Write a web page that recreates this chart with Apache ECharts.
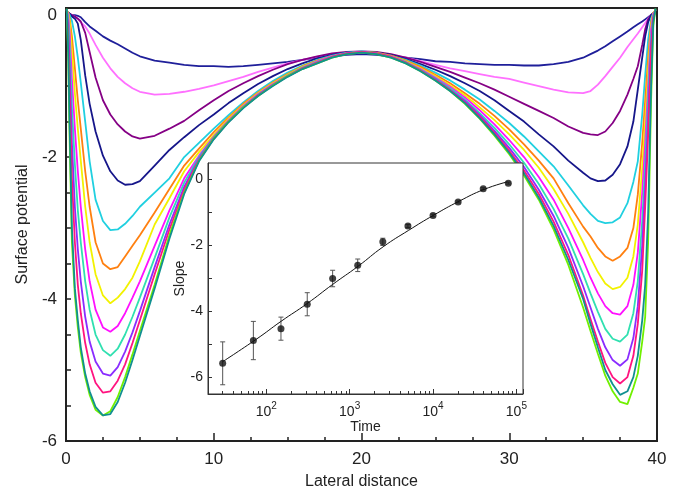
<!DOCTYPE html>
<html><head><meta charset="utf-8">
<script src="https://cdn.jsdelivr.net/npm/echarts@6/dist/echarts.min.js"></script>
<style>html,body{margin:0;padding:0;background:#fff}#c{width:682px;height:498px}</style>
</head><body><div id="c"></div>
<script>
// ---- main chart data ----
const X = [0.05,0.15,0.25,0.4,0.6,0.8,1,1.3,1.6,2,2.5,3,3.5,4,4.5,5,
  6,7,8,9,10,11,12,13,14,15,16,17,18,19,20,21,22,23,24,25,26,27,28,29,30,31,32,33,34,
  35,35.5,36,36.5,37,37.5,38,38.4,38.7,39,39.2,39.4,39.6,39.75,39.9];

const curveColors = ['#1f1f9a','#ff70ff','#850085','#16168a','#20d0e0','#ff8010','#f2f200',
  '#ff10ff','#30e0b0','#8a2cff','#ff1480','#70f000','#109090'];

const Y1 = [0.03,0.02,0.01,0.0,0.0,-0.01,-0.03,-0.1,-0.16,-0.22,-0.3,-0.36,-0.41,-0.47,-0.53,-0.58,
  -0.64,-0.67,-0.7,-0.72,-0.72,-0.73,-0.72,-0.7,-0.68,-0.66,-0.63,-0.6,-0.58,-0.56,-0.55,-0.56,-0.58,-0.6,-0.62,-0.65,-0.66,-0.68,-0.69,-0.7,-0.7,-0.71,-0.71,-0.69,-0.66,
  -0.6,-0.55,-0.5,-0.44,-0.37,-0.3,-0.23,-0.17,-0.13,-0.09,-0.06,-0.03,0.0,0.01,0.03];
const Y2 = [0.04,0.03,0.02,0.0,-0.02,-0.05,-0.1,-0.16,-0.26,-0.42,-0.6,-0.75,-0.87,-0.96,-1.03,-1.08,
  -1.12,-1.11,-1.08,-1.04,-0.99,-0.93,-0.87,-0.8,-0.74,-0.68,-0.63,-0.59,-0.55,-0.53,-0.52,-0.53,-0.56,-0.6,-0.65,-0.7,-0.75,-0.79,-0.83,-0.87,-0.9,-0.95,-1.0,-1.05,-1.09,
  -1.1,-1.07,-0.98,-0.86,-0.73,-0.6,-0.45,-0.34,-0.26,-0.17,-0.11,-0.05,0.0,0.02,0.04];
const Y3 = [0.05,0.04,0.02,0.0,-0.02,-0.05,-0.09,-0.25,-0.52,-0.88,-1.2,-1.4,-1.54,-1.64,-1.71,-1.74,
  -1.7,-1.6,-1.49,-1.34,-1.2,-1.07,-0.96,-0.86,-0.77,-0.69,-0.63,-0.58,-0.54,-0.52,-0.51,-0.52,-0.55,-0.6,-0.66,-0.73,-0.8,-0.88,-0.96,-1.05,-1.15,-1.25,-1.35,-1.45,-1.57,
  -1.66,-1.68,-1.69,-1.64,-1.52,-1.35,-1.12,-0.9,-0.72,-0.42,-0.2,-0.06,0.0,0.03,0.05];
const Y4 = [0.05,0.04,0.02,-0.02,-0.05,-0.12,-0.35,-0.85,-1.25,-1.64,-1.98,-2.2,-2.33,-2.39,-2.38,-2.34,
  -2.12,-1.9,-1.72,-1.55,-1.4,-1.24,-1.1,-0.97,-0.86,-0.76,-0.68,-0.61,-0.56,-0.53,-0.52,-0.53,-0.56,-0.62,-0.69,-0.77,-0.86,-0.96,-1.07,-1.2,-1.35,-1.5,-1.68,-1.85,-2.05,
  -2.22,-2.3,-2.34,-2.33,-2.25,-2.1,-1.85,-1.5,-1.05,-0.6,-0.3,-0.1,0.0,0.03,0.05];
const Y5 = [0.06,0.04,0.0,-0.08,-0.3,-0.6,-0.95,-1.5,-2.06,-2.6,-2.9,-3.03,-3.02,-2.94,-2.83,-2.7,
  -2.5,-2.3,-2.0,-1.8,-1.6,-1.41,-1.23,-1.07,-0.93,-0.81,-0.71,-0.63,-0.57,-0.53,-0.51,-0.53,-0.57,-0.63,-0.71,-0.81,-0.92,-1.05,-1.19,-1.35,-1.52,-1.71,-1.92,-2.13,-2.4,
  -2.68,-2.8,-2.9,-2.93,-2.92,-2.85,-2.65,-2.35,-2.06,-1.4,-0.85,-0.35,-0.05,0.03,0.06];
const Y6 = [0.06,0.03,-0.05,-0.3,-0.75,-1.2,-1.6,-2.2,-2.7,-3.2,-3.5,-3.58,-3.55,-3.4,-3.25,-3.1,
  -2.78,-2.45,-2.12,-1.88,-1.65,-1.44,-1.25,-1.09,-0.95,-0.83,-0.72,-0.64,-0.58,-0.54,-0.52,-0.53,-0.57,-0.64,-0.73,-0.84,-0.96,-1.1,-1.25,-1.42,-1.61,-1.82,-2.05,-2.3,-2.65,
  -2.98,-3.12,-3.28,-3.4,-3.46,-3.4,-3.28,-3.0,-2.53,-1.8,-1.2,-0.6,-0.1,0.03,0.06];
const Y7 = [0.07,0.02,-0.1,-0.5,-1.1,-1.6,-2.05,-2.7,-3.2,-3.65,-3.95,-4.06,-3.98,-3.86,-3.7,-3.47,
  -2.95,-2.58,-2.2,-1.93,-1.69,-1.46,-1.27,-1.1,-0.96,-0.84,-0.73,-0.65,-0.58,-0.54,-0.52,-0.54,-0.58,-0.65,-0.75,-0.86,-0.99,-1.13,-1.3,-1.48,-1.68,-1.9,-2.15,-2.45,-2.8,
  -3.2,-3.42,-3.62,-3.78,-3.86,-3.83,-3.7,-3.4,-2.95,-2.15,-1.5,-0.8,-0.15,0.03,0.07];
const Y8 = [0.07,0.0,-0.25,-0.9,-1.6,-2.2,-2.7,-3.3,-3.75,-4.15,-4.4,-4.46,-4.38,-4.2,-3.98,-3.75,
  -3.25,-2.75,-2.3,-1.98,-1.71,-1.48,-1.28,-1.11,-0.97,-0.85,-0.74,-0.65,-0.58,-0.54,-0.52,-0.54,-0.58,-0.66,-0.76,-0.88,-1.01,-1.16,-1.34,-1.54,-1.76,-2.0,-2.28,-2.6,-3.0,
  -3.45,-3.7,-3.92,-4.1,-4.2,-4.22,-4.1,-3.8,-3.35,-2.5,-1.8,-1.0,-0.2,0.02,0.07];
const Y9 = [0.07,-0.05,-0.45,-1.3,-2.1,-2.75,-3.2,-3.75,-4.15,-4.5,-4.72,-4.8,-4.7,-4.5,-4.25,-3.98,
  -3.42,-2.85,-2.36,-2.0,-1.72,-1.49,-1.29,-1.12,-0.98,-0.85,-0.74,-0.66,-0.59,-0.54,-0.52,-0.54,-0.59,-0.66,-0.77,-0.89,-1.03,-1.19,-1.38,-1.59,-1.82,-2.08,-2.38,-2.73,-3.15,
  -3.65,-3.92,-4.18,-4.42,-4.56,-4.6,-4.5,-4.2,-3.75,-2.9,-2.1,-1.2,-0.3,0.0,0.07];
const Y10 = [0.08,-0.15,-0.75,-1.8,-2.7,-3.3,-3.75,-4.25,-4.6,-4.88,-5.05,-5.08,-4.96,-4.74,-4.47,-4.17,
  -3.55,-2.95,-2.42,-2.02,-1.73,-1.5,-1.3,-1.13,-0.98,-0.86,-0.75,-0.67,-0.59,-0.54,-0.52,-0.54,-0.59,-0.67,-0.78,-0.9,-1.05,-1.21,-1.41,-1.63,-1.87,-2.14,-2.46,-2.83,-3.28,
  -3.82,-4.12,-4.42,-4.68,-4.86,-4.94,-4.85,-4.55,-4.1,-3.25,-2.4,-1.45,-0.4,-0.02,0.07];
const Y11 = [0.08,-0.3,-1.1,-2.3,-3.2,-3.8,-4.2,-4.62,-4.92,-5.18,-5.32,-5.3,-5.15,-4.92,-4.62,-4.3,
  -3.65,-3.02,-2.46,-2.04,-1.74,-1.5,-1.3,-1.13,-0.99,-0.86,-0.75,-0.67,-0.59,-0.54,-0.52,-0.54,-0.59,-0.67,-0.78,-0.91,-1.06,-1.23,-1.43,-1.66,-1.91,-2.19,-2.52,-2.91,-3.38,
  -3.95,-4.28,-4.6,-4.9,-5.1,-5.19,-5.1,-4.8,-4.35,-3.6,-2.7,-1.7,-0.5,-0.05,0.08];
const Y12 = [0.09,-0.6,-1.8,-3.2,-3.95,-4.4,-4.75,-5.1,-5.35,-5.56,-5.64,-5.58,-5.38,-5.1,-4.78,-4.45,
  -3.8,-3.1,-2.5,-2.05,-1.74,-1.5,-1.3,-1.14,-0.99,-0.86,-0.76,-0.68,-0.6,-0.55,-0.53,-0.55,-0.6,-0.68,-0.79,-0.92,-1.07,-1.25,-1.46,-1.7,-1.96,-2.26,-2.6,-3.02,-3.52,
  -4.12,-4.45,-4.77,-5.08,-5.3,-5.45,-5.48,-5.25,-5.05,-4.6,-4.25,-3.2,-1.2,-0.15,0.09];
const Y13 = [0.09,-0.5,-1.6,-3.0,-3.85,-4.3,-4.68,-5.05,-5.3,-5.52,-5.64,-5.62,-5.45,-5.18,-4.86,-4.52,
  -3.85,-3.15,-2.52,-2.06,-1.75,-1.51,-1.31,-1.14,-1.0,-0.87,-0.76,-0.68,-0.6,-0.55,-0.53,-0.55,-0.6,-0.68,-0.79,-0.92,-1.07,-1.24,-1.45,-1.68,-1.94,-2.23,-2.57,-2.97,-3.45,
  -4.0,-4.35,-4.68,-5.0,-5.2,-5.35,-5.3,-5.1,-4.8,-4.3,-3.8,-2.8,-1.0,-0.1,0.09];
const curves = [Y1,Y2,Y3,Y4,Y5,Y6,Y7,Y8,Y9,Y10,Y11,Y12,Y13];

// ---- inset data ----
const time = [30, 70, 150, 310, 625, 1250, 2500, 5000, 10000, 20000, 40000, 80000];
const slope = [-5.57, -4.88, -4.52, -3.78, -3.00, -2.60, -1.89, -1.41, -1.09, -0.68, -0.28, -0.11];
const slopeErr = [0.65, 0.58, 0.35, 0.35, 0.25, 0.19, 0.11, 0.05, 0.04, 0.03, 0.03, 0.03];
const fitTime = [30, 77, 150, 309, 625, 1260, 2520, 5100, 10200, 20500, 41000, 78000];
const fitSlope = [-5.52, -4.83, -4.30, -3.76, -3.18, -2.63, -2.04, -1.54, -1.08, -0.66, -0.30, -0.07];
const insetYTicks = [-6, -5, -4, -3, -2, -1, 0];
const insetYLabels = [-6, -4, -2, 0];

const F = "'Liberation Sans', Arial, Helvetica, sans-serif";
const chart = echarts.init(document.getElementById('c'), null, {renderer: 'canvas'});

const lineSeries = curves.map((ys, k) => ({
  type: 'line', xAxisIndex: 0, yAxisIndex: 0, symbol: 'none', z: 2,
  data: X.map((x, i) => [x, ys[i]]),
  lineStyle: {color: curveColors[k], width: 1.8},
  itemStyle: {color: curveColors[k]}
}));

const option = {
  animation: false,
  backgroundColor: '#fff',
  grid: [
    {left: 66, right: 25, top: 8, bottom: 57, show: true, borderColor: '#222', borderWidth: 2, backgroundColor: 'transparent'},
    {left: 208, top: 163, width: 315, height: 231, show: true, borderColor: '#333', borderWidth: 1, backgroundColor: '#fff', z: 10}
  ],
  xAxis: [
    {gridIndex: 0, type: 'value', min: 0, max: 40, interval: 10,
     axisLine: {show: true, onZero: false, lineStyle: {color: '#222', width: 2}},
     axisTick: {show: true, inside: true, length: 8, lineStyle: {color: '#222', width: 1.5}},
     minorTick: {show: true, splitNumber: 4, length: 4, lineStyle: {color: '#222', width: 1.5}},
     splitLine: {show: false}, minorSplitLine: {show: false},
     axisLabel: {fontSize: 17, color: '#222', margin: 10, fontFamily: F},
     name: 'Lateral distance', nameLocation: 'middle', nameGap: 33,
     nameTextStyle: {fontSize: 16, color: '#222', fontFamily: F}},
    {gridIndex: 1, type: 'log', logBase: 10, min: 20, max: 120000, z: 11,
     axisLine: {show: true, onZero: false, lineStyle: {color: '#333', width: 1}},
     axisTick: {show: true, inside: true, length: 5, lineStyle: {color: '#333', width: 1}},
     minorTick: {show: true, splitNumber: 9, length: 3, lineStyle: {color: '#333', width: 1}},
     splitLine: {show: false}, minorSplitLine: {show: false},
     axisLabel: {margin: 7, color: '#222',
       formatter: function (v) {
         const l = Math.log10(v), e = Math.round(l);
         if (Math.abs(l - e) > 1e-6) return '';
         return '{b|10}{s|' + e + '}';
       },
       rich: {
         b: {fontSize: 14, color: '#222', fontFamily: F, lineHeight: 18, verticalAlign: 'bottom'},
         s: {fontSize: 10, color: '#222', fontFamily: F, lineHeight: 5, verticalAlign: 'top'}
       }},
     name: 'Time', nameLocation: 'middle', nameGap: 25,
     nameTextStyle: {fontSize: 14, color: '#222', fontFamily: F}}
  ],
  yAxis: [
    {gridIndex: 0, type: 'value', min: -6, max: 0.1, interval: 0.5,
     axisLine: {show: true, onZero: false, lineStyle: {color: '#222', width: 2}},
     axisTick: {show: true, inside: true, length: 5, lineStyle: {color: '#222', width: 1.5}},
     splitLine: {show: false},
     axisLabel: {fontSize: 17, color: '#222', margin: 9, fontFamily: F,
       formatter: v => (Math.abs(v % 2) < 1e-9 ? String(v) : '')},
     name: 'Surface potential', nameLocation: 'middle', nameGap: 35, nameRotate: 90,
     nameTextStyle: {fontSize: 16, color: '#222', fontFamily: F}},
    {gridIndex: 1, type: 'value', min: -6.5, max: 0.5, z: 11,
     axisLine: {show: true, onZero: false, lineStyle: {color: '#333', width: 1}},
     axisTick: {show: true, inside: true, length: 4, customValues: insetYTicks, lineStyle: {color: '#333', width: 1}},
     splitLine: {show: false},
     axisLabel: {fontSize: 14, color: '#222', margin: 5, fontFamily: F, customValues: insetYLabels},
     name: 'Slope', nameLocation: 'middle', nameGap: 18, nameRotate: 90,
     nameTextStyle: {fontSize: 14, color: '#222', fontFamily: F}}
  ],
  series: lineSeries.concat([
    {type: 'custom', xAxisIndex: 1, yAxisIndex: 1, z: 12,
     data: time.map((t, i) => [t, slope[i], slopeErr[i]]),
     encode: {x: 0, y: 1},
     renderItem: function (params, api) {
       const x = api.value(0), y = api.value(1), e = api.value(2);
       const top = api.coord([x, y + e]), bot = api.coord([x, y - e]);
       const w = 2.5, st = {stroke: '#555', lineWidth: 1};
       return {type: 'group', children: [
         {type: 'line', shape: {x1: top[0], y1: top[1], x2: bot[0], y2: bot[1]}, style: st},
         {type: 'line', shape: {x1: top[0] - w, y1: top[1], x2: top[0] + w, y2: top[1]}, style: st},
         {type: 'line', shape: {x1: bot[0] - w, y1: bot[1], x2: bot[0] + w, y2: bot[1]}, style: st}
       ]};
     }},
    {type: 'line', xAxisIndex: 1, yAxisIndex: 1, z: 12, smooth: true, symbol: 'none',
     data: fitTime.map((t, i) => [t, fitSlope[i]]),
     lineStyle: {color: '#111', width: 1}},
    {type: 'scatter', xAxisIndex: 1, yAxisIndex: 1, z: 13, symbolSize: 7,
     data: time.map((t, i) => [t, slope[i]]),
     itemStyle: {color: '#111'}}
  ])
};
chart.setOption(option);
</script>
</body></html>
